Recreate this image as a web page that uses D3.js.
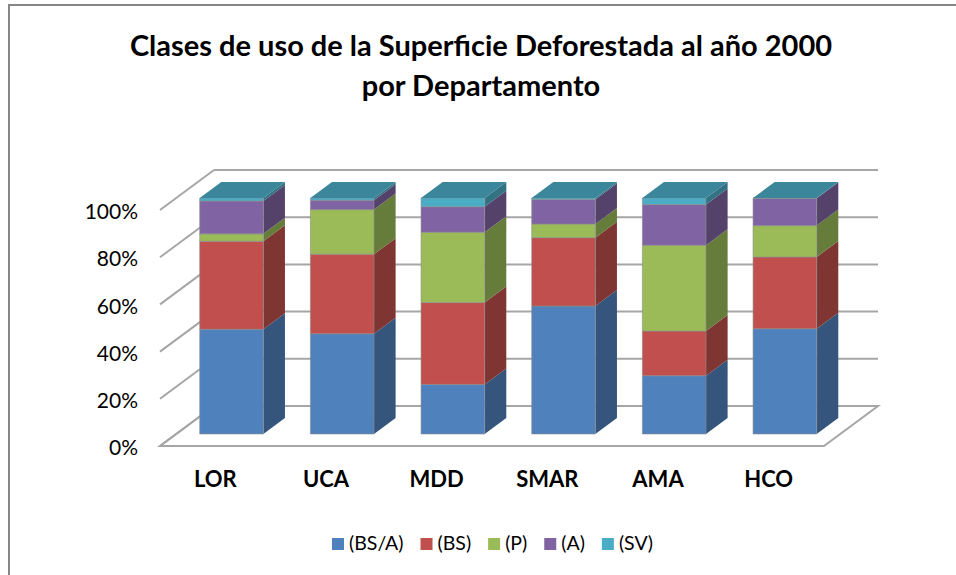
<!DOCTYPE html>
<html>

<head>
    <meta charset="utf-8">
    <title>Clases de uso de la Superficie Deforestada</title>
    <script src="https://d3js.org/d3.v7.min.js"></script>
    <style>
        html, body { margin: 0; padding: 0; background: #fff; }
        svg { display: block; }
        text { font-family: Lato, "Noto Sans", sans-serif; fill: #000; }
        .title { font-size: 29px; font-weight: 700; text-anchor: middle; }
        .yaxis text { font-size: 21px; }
        .xaxis text { font-size: 22px; font-weight: 700; }
        .legend text { font-size: 19.5px; }
        .grid { stroke: #a6a6a6; stroke-width: 2; fill: none; }
    </style>
</head>

<body>
    <svg width="956" height="575"></svg>
    <script>
        var titleLines = ["Clases de uso de la Superficie Deforestada al año 2000", "por Departamento"];
        var categories = ["LOR", "UCA", "MDD", "SMAR", "AMA", "HCO"];
        var seriesNames = ["(BS/A)", "(BS)", "(P)", "(A)", "(SV)"];
        var seriesColors = ["#4f81bd", "#c0504d", "#9bbb59", "#8064a2", "#4bacc6"];
        var bsa = [44.4, 42.5, 21.0, 54.2, 24.7, 44.6];
        var bs = [37.3, 33.7, 34.7, 29.0, 18.9, 30.4];
        var p = [3.1, 18.9, 29.8, 5.8, 36.4, 13.3];
        var a = [13.9, 3.9, 10.8, 10.4, 17.2, 11.6];
        var sv = [1.3, 1.0, 3.7, 0.6, 2.8, 0.1];
        var seriesValues = [bsa, bs, p, a, sv];
        var yTicks = [0, 20, 40, 60, 80, 100];

        var svg = d3.select("svg");

        // chart frame, only top and left show in the crop
        svg.append("path")
            .attr("d", "M956,5H9V575")
            .attr("fill", "none")
            .attr("stroke", "#868686")
            .attr("stroke-width", 2);

        svg.selectAll(".title")
            .data(titleLines)
            .enter().append("text")
            .attr("class", "title")
            .attr("x", 481)
            .attr("y", function (d, i) { return 56 + i * 40; })
            .text(function (d) { return d; });

        // front plane of the 3d box
        var x = d3.scaleBand()
            .domain(categories)
            .range([160, 824])
            .paddingInner(0.425)
            .paddingOuter(0.2125);

        var y = d3.scaleLinear()
            .domain([0, 100])
            .range([446, 210]);

        // depth goes 0 (front) to 1 (back wall)
        var depthX = d3.scaleLinear().domain([0, 1]).range([0, 54]);
        var depthY = d3.scaleLinear().domain([0, 1]).range([0, -40]);
        var barFront = 0.3, barBack = 0.7;

        var rows = categories.map(function (c, i) {
            var row = { cat: c };
            seriesNames.forEach(function (s, j) { row[s] = seriesValues[j][i]; });
            return row;
        });
        var stacked = d3.stack().keys(seriesNames)(rows);

        function pt(px, v, d) {
            return (px + depthX(d)) + "," + (y(v) + depthY(d));
        }

        function shade(color, k) {
            var c = d3.rgb(color);
            return d3.rgb(c.r * k, c.g * k, c.b * k).formatHex();
        }

        var soft = svg.append("defs").append("filter")
            .attr("id", "soft");
        soft.append("feGaussianBlur").attr("stdDeviation", 0.35);

        var box = svg.append("g").attr("filter", "url(#soft)");

        // back wall lines + left wall diagonals
        box.selectAll(".back")
            .data(yTicks)
            .enter().append("line")
            .attr("class", "grid")
            .attr("x1", x.range()[0] + depthX(1))
            .attr("x2", x.range()[1] + depthX(1))
            .attr("y1", function (d) { return y(d) + depthY(1); })
            .attr("y2", function (d) { return y(d) + depthY(1); });

        box.selectAll(".side")
            .data(yTicks)
            .enter().append("line")
            .attr("class", "grid")
            .attr("x1", x.range()[0])
            .attr("x2", x.range()[0] + depthX(1))
            .attr("y1", function (d) { return y(d); })
            .attr("y2", function (d) { return y(d) + depthY(1); });

        // floor
        box.append("polygon")
            .attr("class", "grid")
            .attr("points", [pt(x.range()[0], 0, 0), pt(x.range()[1], 0, 0), pt(x.range()[1], 0, 1), pt(x.range()[0], 0, 1)].join(" "));

        categories.forEach(function (c, i) {
            var x0 = x(c), x1 = x(c) + x.bandwidth();
            var bar = box.append("g");

            stacked.forEach(function (layer, j) {
                var v0 = layer[i][0], v1 = layer[i][1];
                var color = seriesColors[j];

                // side face
                bar.append("polygon")
                    .attr("points", [pt(x1, v0, barFront), pt(x1, v0, barBack), pt(x1, v1, barBack), pt(x1, v1, barFront)].join(" "))
                    .attr("fill", shade(color, 0.66));

                // front face
                bar.append("polygon")
                    .attr("points", [pt(x0, v0, barFront), pt(x1, v0, barFront), pt(x1, v1, barFront), pt(x0, v1, barFront)].join(" "))
                    .attr("fill", color)
                    .attr("stroke", "#8c8c8c")
                    .attr("stroke-opacity", 0.6)
                    .attr("stroke-width", 1);
            });

            // cap takes the colour of the top series
            var last = stacked[stacked.length - 1][i][1];
            bar.append("polygon")
                .attr("points", [pt(x0, last, barFront), pt(x1, last, barFront), pt(x1, last, barBack), pt(x0, last, barBack)].join(" "))
                .attr("fill", shade(seriesColors[4], 0.78));
        });

        var yAxis = d3.axisLeft(y)
            .tickValues(yTicks)
            .tickSize(0)
            .tickPadding(0)
            .tickFormat(function (d) { return d + "%"; });

        svg.append("g")
            .attr("class", "yaxis")
            .attr("transform", "translate(138,2)")
            .call(yAxis)
            .call(function (g) { g.select(".domain").remove(); });

        var xAxis = d3.axisBottom(x).tickSize(0).tickPadding(0);

        svg.append("g")
            .attr("class", "xaxis")
            .attr("transform", "translate(0,471)")
            .call(xAxis)
            .call(function (g) { g.select(".domain").remove(); });

        // legend, laid out by measured text width
        var legend = svg.append("g").attr("class", "legend");
        var cursor = 332;
        seriesNames.forEach(function (s, j) {
            legend.append("rect")
                .attr("x", cursor)
                .attr("y", 538)
                .attr("width", 12)
                .attr("height", 12)
                .attr("fill", seriesColors[j]);
            var t = legend.append("text")
                .attr("x", cursor + 17)
                .attr("y", 550)
                .text(s);
            cursor += 17 + t.node().getComputedTextLength() + 17;
        });
    </script>
</body>

</html>
